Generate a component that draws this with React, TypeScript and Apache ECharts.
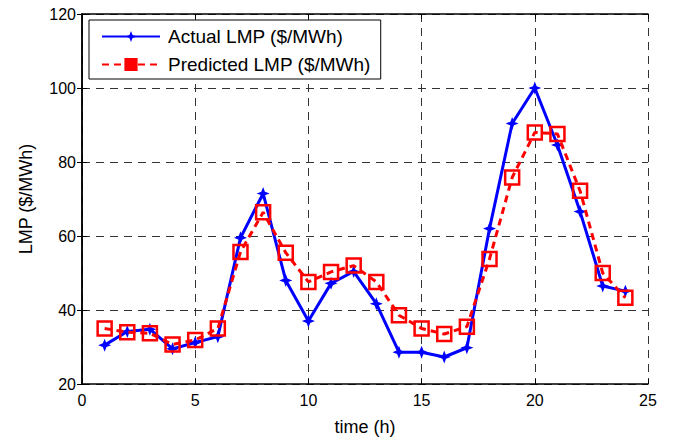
import React, { useEffect, useRef } from "react";
import * as echarts from "echarts";

const hours = [1, 2, 3, 4, 5, 6, 7, 8, 9, 10, 11, 12, 13, 14, 15, 16, 17, 18, 19, 20, 21, 22, 23, 24];
const actualLMP = [30.5, 34.2, 34.8, 29.5, 31.2, 32.8, 59.5, 71.5, 48, 37, 47.2, 50.4, 41.7, 28.6, 28.6, 27.3, 29.8, 62, 90.4, 100, 84.6, 66.6, 46.5, 45.1];
const predictedLMP = [35, 34, 33.7, 30.7, 31.9, 35, 55.7, 66.4, 55.5, 47.6, 50.3, 52, 47.6, 38.6, 35, 33.5, 35.5, 53.8, 75.8, 88, 87.6, 72.2, 50, 43.3];
const xTicks = { min: 0, max: 25, interval: 5 };
const yTicks = { min: 20, max: 120, interval: 20 };

const FONT = "Liberation Sans";
const STAR = "path://M0,-10 L2.8,-2.8 L10,0 L2.8,2.8 L0,10 L-2.8,2.8 L-10,0 L-2.8,-2.8 Z";

export default function App() {
  const ref = useRef<HTMLDivElement>(null);
  useEffect(() => {
    if (!ref.current) return;
    const chart = echarts.init(ref.current, undefined, { renderer: "svg" });
    const gridLine = { show: true, lineStyle: { color: "#333", type: [8, 6] as any, width: 1 } };
    const axisLine = { show: true, lineStyle: { color: "#000", width: 1.5 } };
    const tick = { show: true, inside: true, length: 5, lineStyle: { color: "#000" } };
    chart.setOption({
      animation: false,
      backgroundColor: "#fff",
      textStyle: { fontFamily: FONT },
      grid: { left: 82, right: 30, top: 14, bottom: 56, containLabel: false },
      legend: {
        left: 89,
        top: 20,
        orient: "vertical",
        backgroundColor: "#fff",
        borderColor: "#000",
        borderWidth: 1,
        borderRadius: 0,
        padding: [7, 10, 5, 12],
        itemGap: 9,
        itemWidth: 58,
        itemHeight: 14,
        textStyle: { fontFamily: FONT, fontSize: 19, color: "#000", padding: [0, 0, 0, 3] },
        data: [
          { name: "Actual LMP ($/MWh)" },
          { name: "Predicted LMP ($/MWh)", itemStyle: { color: "#ff0000", borderColor: "#ff0000" } },
        ],
      },
      xAxis: [
        {
          type: "value",
          min: xTicks.min,
          max: xTicks.max,
          interval: xTicks.interval,
          name: "time (h)",
          nameLocation: "middle",
          nameGap: 34,
          nameTextStyle: { fontFamily: FONT, fontSize: 18, color: "#000" },
          axisLine,
          axisTick: tick,
          axisLabel: { fontFamily: FONT, fontSize: 16, color: "#000", margin: 8 },
          splitLine: gridLine,
        },
        {
          type: "value",
          position: "top",
          min: xTicks.min,
          max: xTicks.max,
          interval: xTicks.interval,
          axisLine,
          axisTick: tick,
          axisLabel: { show: false },
          splitLine: { show: false },
        },
      ],
      yAxis: [
        {
          type: "value",
          min: yTicks.min,
          max: yTicks.max,
          interval: yTicks.interval,
          name: "LMP ($/MWh)",
          nameLocation: "middle",
          nameGap: 47,
          nameTextStyle: { fontFamily: FONT, fontSize: 18, color: "#000" },
          axisLine,
          axisTick: tick,
          axisLabel: { fontFamily: FONT, fontSize: 16, color: "#000", margin: 6 },
          splitLine: gridLine,
        },
        {
          type: "value",
          position: "right",
          min: yTicks.min,
          max: yTicks.max,
          interval: yTicks.interval,
          axisLine,
          axisTick: tick,
          axisLabel: { show: false },
          splitLine: { show: false },
        },
      ],
      series: [
        {
          name: "Actual LMP ($/MWh)",
          type: "line",
          data: hours.map((h, i) => [h, actualLMP[i]]),
          symbol: STAR,
          symbolSize: 13,
          lineStyle: { color: "#0000ff", width: 3 },
          itemStyle: { color: "#0000ff", borderWidth: 0 },
          z: 2,
        },
        {
          name: "Predicted LMP ($/MWh)",
          type: "line",
          data: hours.map((h, i) => [h, predictedLMP[i]]),
          symbol: "rect",
          symbolSize: 14,
          showAllSymbol: true,
          lineStyle: { color: "#ff0000", width: 3, type: [7, 5] as any },
          itemStyle: { color: "rgba(255,255,255,0)", borderColor: "#ff0000", borderWidth: 2.5 },
          z: 3,
        },
      ],
    });
    return () => chart.dispose();
  }, []);
  return <div ref={ref} style={{ width: 678, height: 441, position: "absolute", left: 0, top: 0 }} />;
}
